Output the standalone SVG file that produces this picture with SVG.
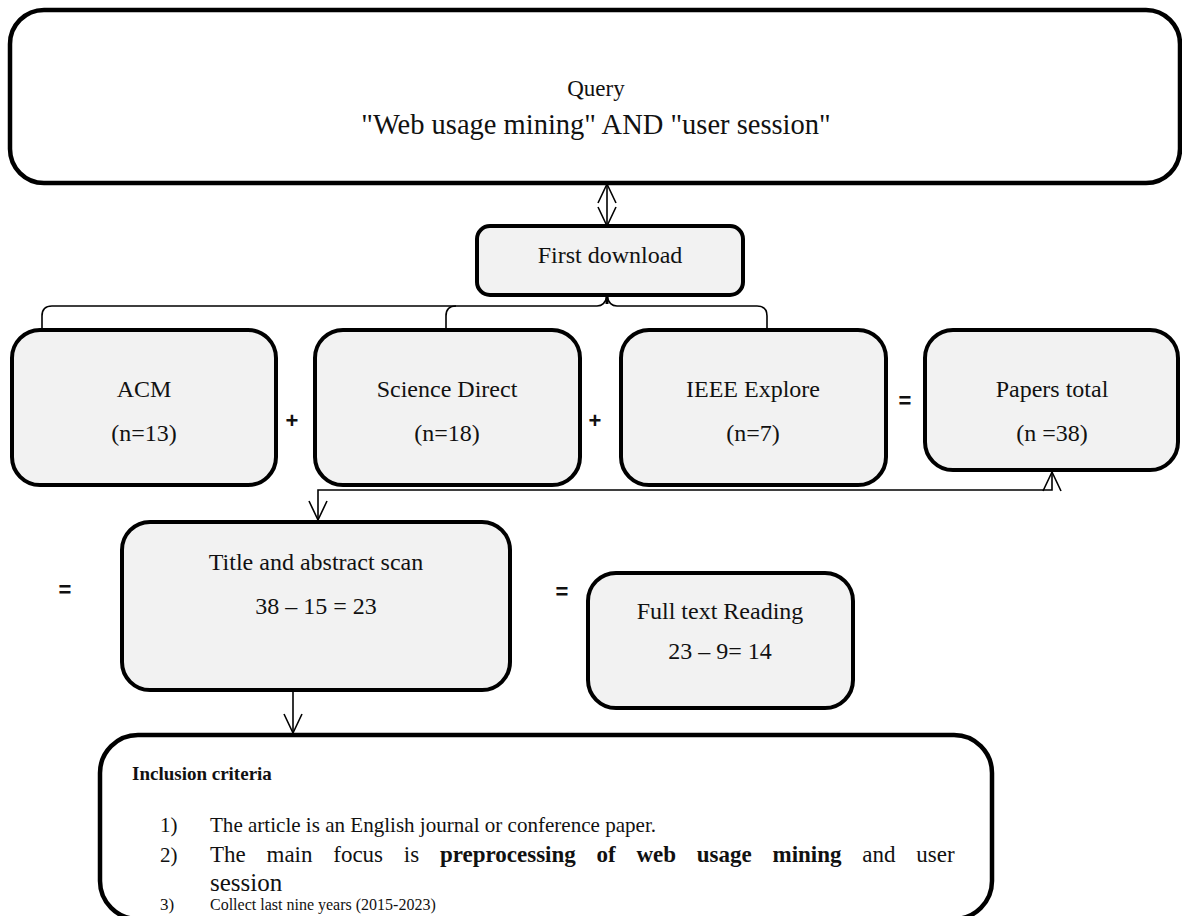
<svg xmlns="http://www.w3.org/2000/svg" width="1182" height="916" viewBox="0 0 1182 916">
<defs>
<style>
.box{fill:#f2f2f2;stroke:#000;stroke-width:4}
.big{fill:#fff;stroke:#000;stroke-width:4.5}
.t{font-family:"Liberation Serif",serif;fill:#111;text-anchor:middle;font-size:24px}
.s{font-family:"Liberation Sans",sans-serif;fill:#111;text-anchor:middle;font-size:22px;font-weight:bold}
.ln{fill:none;stroke:#000;stroke-width:1.6}
</style>
<marker id="ah" markerWidth="24" markerHeight="24" refX="20" refY="10" orient="auto-start-reverse" markerUnits="userSpaceOnUse">
<path d="M1,1 L20,10 L1,19" fill="none" stroke="#000" stroke-width="1.6"/>
</marker>
</defs>
<rect width="1182" height="916" fill="#fff"/>
<g id="connectors">
<line class="ln" x1="607" y1="184" x2="607" y2="226" marker-start="url(#ah)" marker-end="url(#ah)"/>
<path class="ln" d="M42,330 L42,316 Q42,306 52,306 L597,306 Q605,306 607,296 Q609,306 617,306 L757,306 Q767,306 767,316 L767,330"/>
<path class="ln" d="M446,330 L446,316 Q446,306 456,306"/>
<line x1="607" y1="295" x2="607" y2="304" stroke="#000" stroke-width="3"/>
<polyline class="ln" points="318,520 318,490 1052,490 1052,472" marker-start="url(#ah)" marker-end="url(#ah)"/>
<line class="ln" x1="293" y1="690" x2="293" y2="733" marker-end="url(#ah)"/>
</g>
<g id="query">
<rect class="big" x="10" y="10" width="1170" height="173" rx="34"/>
<text class="t" x="596" y="96" style="font-size:23px">Query</text>
<text class="t" x="596" y="134" style="font-size:28.5px">"Web usage mining" AND "user session"</text>
</g>
<g id="first-download">
<rect class="box" x="477" y="226" width="266" height="69" rx="13"/>
<text class="t" x="610" y="263">First download</text>
</g>
<g id="acm">
<rect class="box" x="12" y="330" width="264" height="155" rx="28"/>
<text class="t" x="144" y="397">ACM</text>
<text class="t" x="144" y="441">(n=13)</text>
</g>
<g id="science-direct">
<rect class="box" x="315" y="330" width="265" height="155" rx="28"/>
<text class="t" x="447" y="397">Science Direct</text>
<text class="t" x="447" y="441">(n=18)</text>
</g>
<g id="ieee">
<rect class="box" x="621" y="330" width="265" height="155" rx="28"/>
<text class="t" x="753" y="397">IEEE Explore</text>
<text class="t" x="753" y="441">(n=7)</text>
</g>
<g id="papers-total">
<rect class="box" x="925" y="330" width="253" height="140" rx="28"/>
<text class="t" x="1052" y="397">Papers total</text>
<text class="t" x="1052" y="441">(n =38)</text>
</g>
<g id="operators">
<text class="s" x="292" y="428">+</text>
<text class="s" x="595" y="428">+</text>
<text class="s" x="905" y="408">=</text>
<text class="s" x="65" y="597">=</text>
<text class="s" x="562" y="599">=</text>
</g>
<g id="title-scan">
<rect class="box" x="122" y="522" width="388" height="168" rx="28"/>
<text class="t" x="316" y="570">Title and abstract scan</text>
<text class="t" x="316" y="614">38 – 15 = 23</text>
</g>
<g id="full-text">
<rect class="box" x="588" y="573" width="265" height="135" rx="28"/>
<text class="t" x="720" y="619">Full text Reading</text>
<text class="t" x="720" y="659">23 – 9= 14</text>
</g>
<g id="inclusion">
<rect class="big" x="100" y="735" width="892" height="184" rx="38" stroke-width="5"/>
<text font-family="Liberation Serif,serif" font-size="19" font-weight="bold" x="132" y="780" fill="#111">Inclusion criteria</text>
<g font-family="Liberation Serif,serif" fill="#111">
<text x="160" y="832" font-size="21">1)</text>
<text x="210" y="832" font-size="21" textLength="446" lengthAdjust="spacingAndGlyphs">The article is an English journal or conference paper.</text>
<text x="160" y="862" font-size="21">2)</text>
<text x="210" y="862" font-size="23" word-spacing="15">The main focus is <tspan font-weight="bold">preprocessing of web usage mining</tspan> and user</text>
<text x="210" y="891" font-size="25">session</text>
<text x="160" y="910" font-size="17">3)</text>
<text x="210" y="910" font-size="16">Collect last nine years (2015-2023)</text>
</g>
</g>
</svg>
